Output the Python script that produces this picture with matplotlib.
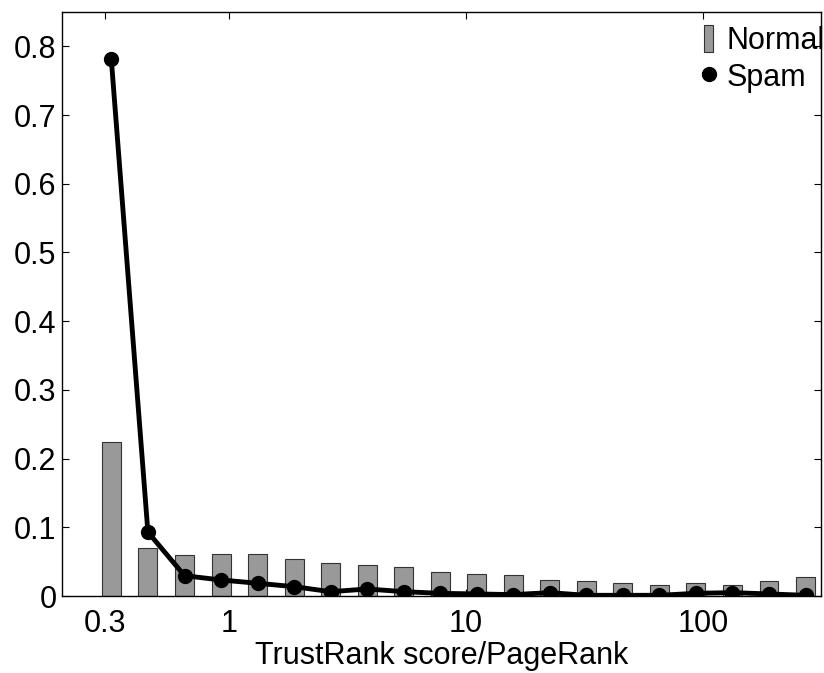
import numpy as np
import matplotlib.pyplot as plt
from matplotlib.ticker import FixedLocator, NullLocator, FixedFormatter

plt.rcParams['font.family'] = ['Liberation Sans', 'DejaVu Sans']

# bin centres of TrustRank/PageRank ratio (log spaced)
bin_centers = [0.318, 0.454, 0.648, 0.925, 1.32, 1.88, 2.68, 3.83, 5.46, 7.78,
               11.1, 15.8, 22.6, 32.2, 45.9, 65.5, 93.3, 133, 190, 271]
normal = [0.2235, 0.070, 0.060, 0.061, 0.061, 0.0535, 0.048, 0.0447, 0.0427, 0.0355,
          0.0316, 0.031, 0.0228, 0.0214, 0.0185, 0.0156, 0.0185, 0.016, 0.0223, 0.0272]
spam = [0.782, 0.093, 0.0296, 0.0233, 0.0185, 0.0136, 0.0063, 0.0102, 0.0063, 0.0039,
        0.003, 0.002, 0.0049, 0.001, 0.001, 0.001, 0.0039, 0.0049, 0.003, 0.001]
xtick_vals = [0.3, 1, 10, 100]
xtick_labels = ['0.3', '1', '10', '100']
ytick_vals = [0, 0.1, 0.2, 0.3, 0.4, 0.5, 0.6, 0.7, 0.8]

fs = 22

fig = plt.figure(figsize=(8.24, 6.73), dpi=100)
ax = fig.add_axes([62 / 824, 77 / 673, 759 / 824, 584 / 673])

x = np.array(bin_centers)
half = 10 ** 0.04  # bars have constant width on the log axis
left = x / half
width = x * half - left
bars = ax.bar(left, normal, width=width, align='edge', color='#999999',
              edgecolor='#333333', linewidth=0.8, label='Normal', zorder=2)
line, = ax.plot(x, spam, color='black', linewidth=3.5, marker='o', markersize=10,
                markerfacecolor='black', markeredgecolor='black', label='Spam', zorder=3)

ax.set_xscale('log')
ax.set_xlim(0.197, 315)
ax.set_ylim(0, 0.85)
ax.xaxis.set_major_locator(FixedLocator(xtick_vals))
ax.xaxis.set_major_formatter(FixedFormatter(xtick_labels))
ax.xaxis.set_minor_locator(NullLocator())
ax.set_yticks(ytick_vals)
ax.set_yticklabels(['0' if v == 0 else f'{v:.1f}' for v in ytick_vals])

ax.tick_params(direction='in', length=5, width=0.8, top=True, right=True,
               labelsize=fs, colors='black')
ax.tick_params(axis='y', pad=4)
ax.tick_params(axis='x', pad=9)
for sp in ax.spines.values():
    sp.set_linewidth(1.0)

ax.set_xlabel('TrustRank score/PageRank', fontsize=fs, labelpad=2)

leg = ax.legend(handles=[bars, line], loc='upper left',
                bbox_to_anchor=(704 / 824, 1 - 25 / 673), bbox_transform=fig.transFigure,
                frameon=False, fontsize=fs, handlelength=0.3, handleheight=1.0,
                handletextpad=0.45, labelspacing=0.2, borderpad=0, borderaxespad=0)

fig.savefig('out.png', dpi=100)
